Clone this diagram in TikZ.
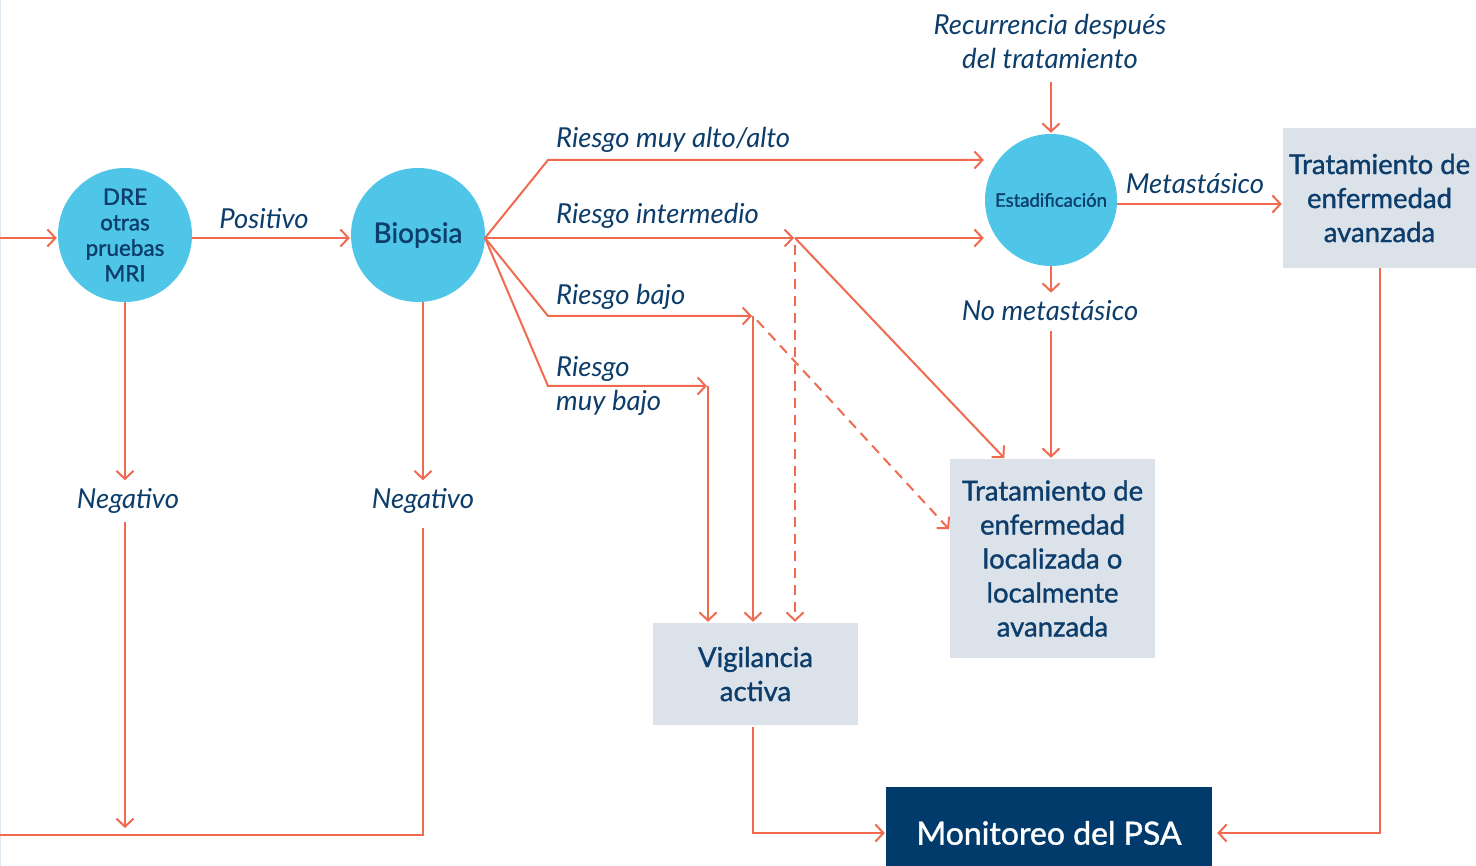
\documentclass[tikz,border=0pt]{standalone}
\usepackage{fontspec}
\setmainfont{Lato}
\newfontfamily\medio{Lato}[FakeBold=1.2]
\usetikzlibrary{arrows.meta}
\definecolor{naranja}{HTML}{EF6A4F}
\definecolor{celeste}{HTML}{4FC6E8}
\definecolor{azul}{HTML}{0C3D6B}
\definecolor{gris}{HTML}{DCE2EA}
\definecolor{marino}{HTML}{003B6C}
\definecolor{borde}{HTML}{DDE5EF}

\begin{document}
\begin{tikzpicture}[x=1pt, y=-1pt,
  conector/.style={draw=naranja, line width=2pt},
  flecha/.style={conector, -{Straight Barb[length=8pt,width=17pt,line width=2pt]}, shorten >=1pt},
  discont/.style={flecha, dash pattern=on 10pt off 7pt},
  circulo/.style={circle, fill=celeste, text=azul, align=center, inner sep=0pt},
  caja/.style={rectangle, fill=gris, text=azul, align=center, inner sep=0pt,
    font=\medio\fontsize{27.5}{34}\selectfont},
  etiqueta/.style={text=azul, font=\fontsize{27.5}{34}\selectfont\itshape, inner sep=0pt}]
  \useasboundingbox (0,0) rectangle (1476,866);
  \draw[borde, line width=1pt] (0.5,0) -- (0.5,866);

  % circulos
  \node[circulo, minimum size=134pt, font=\medio\fontsize{22.5}{25.5}\selectfont] (dre) at (125,235) {DRE\\otras\\pruebas\\MRI};
  \node[circulo, minimum size=134pt, font=\medio\fontsize{28}{32}\selectfont] (biopsia) at (418,235) {Biopsia};
  \node[circulo, minimum size=132pt, font=\medio\fontsize{18.5}{20}\selectfont] (estad) at (1051,200) {Estadificación};

  % cajas
  \node[caja, minimum width=205pt, minimum height=102pt] (vigilancia) at (755.5,674) {Vigilancia\\activa};
  \node[caja, minimum width=205pt, minimum height=199pt] (localizada) at (1052.5,558.5) {Tratamiento de\\enfermedad\\localizada o\\localmente\\avanzada};
  \node[caja, minimum width=193pt, minimum height=140pt] (avanzada) at (1379.5,198) {Tratamiento de\\enfermedad\\avanzada};
  \node[caja, fill=marino, text=white, minimum width=326pt, minimum height=92pt,
    font=\medio\fontsize{32}{36}\selectfont] (monitoreo) at (1049,833) {Monitoreo del PSA};

  % etiquetas
  \node[etiqueta] (positivo) at (264,219) {Positivo};
  \node[etiqueta, anchor=west] (lmuyalto) at (556,140) {Riesgo muy alto/alto};
  \node[etiqueta, anchor=west] (linter) at (556,216) {Riesgo intermedio};
  \node[etiqueta, anchor=west] (lbajo) at (556,297) {Riesgo bajo};
  \node[etiqueta, anchor=west, align=left] (lmuybajo) at (556,386) {Riesgo\\muy bajo};
  \node[etiqueta, align=center] (recurrencia) at (1050,41) {Recurrencia después\\del tratamiento};
  \node[etiqueta] (metast) at (1195,184) {Metastásico};
  \node[etiqueta] (nometast) at (1050,311) {No metastásico};
  \node[etiqueta] (negdre) at (128,501) {Negativo};
  \node[etiqueta] (negbio) at (423,501) {Negativo};

  % puntos de paso
  \coordinate (entrada) at (0,238);
  \coordinate (salida) at (0,835);
  \coordinate (bsal) at (485,238);
  \coordinate (codoalto) at (548,160);
  \coordinate (codobajo) at (548,316);
  \coordinate (codomb) at (548,386);
  \coordinate (jinter) at (795,238);
  \coordinate (jbajo) at (753,316);
  \coordinate (jmb) at (708,386);

  % conectores
  \draw[flecha] (entrada) -- (dre.west |- entrada);
  \draw[flecha] (dre.east |- entrada) -- (biopsia.west |- entrada);
  \draw[flecha, shorten >=8pt] (dre.south) -- (negdre.north -| dre.south);
  \draw[flecha, shorten <=8pt, shorten >=7pt] (negdre.south -| dre.south) -- (salida -| dre.south);
  \draw[flecha, shorten >=8pt] (biopsia.south -| negbio) -- (negbio.north);
  \draw[conector, shorten <=14pt] (negbio.south) -- (salida -| negbio) -- (salida);

  \draw[flecha] (bsal) -- (codoalto) -- (estad.west |- codoalto);
  \draw[flecha] (bsal) -- (jinter);
  \draw[flecha] (bsal) -- (codobajo) -- (jbajo);
  \draw[flecha] (bsal) -- (codomb) -- (jmb);

  \draw[flecha] (jinter) -- (estad.west |- jinter);
  \draw[flecha] (jinter) -- (localizada.north -| 1005,0);
  \draw[discont, shorten <=7pt] (jinter) -- (vigilancia.north -| jinter);
  \draw[flecha] (jbajo) -- (vigilancia.north -| jbajo);
  \draw[discont, shorten <=6pt] (jbajo) -- (localizada.west |- 0,530);
  \draw[flecha] (jmb) -- (vigilancia.north -| jmb);

  \draw[flecha, shorten <=14pt] (recurrencia.south -| estad.north) -- (estad.north);
  \draw[flecha] (estad.east |- 0,204) -- (avanzada.west |- 0,204);
  \draw[flecha, shorten >=8pt] (estad.south) -- (nometast.north -| estad.south);
  \draw[flecha, shorten <=10pt] (nometast.south -| estad.south) -- (localizada.north -| estad.south);

  \draw[flecha, shorten <=2pt] (vigilancia.south -| jbajo) -- (monitoreo.west -| jbajo) -- (monitoreo.west);
  \draw[flecha, shorten >=5pt] (avanzada.south) -- (avanzada.south |- monitoreo.east) -- (monitoreo.east);
\end{tikzpicture}
\end{document}
